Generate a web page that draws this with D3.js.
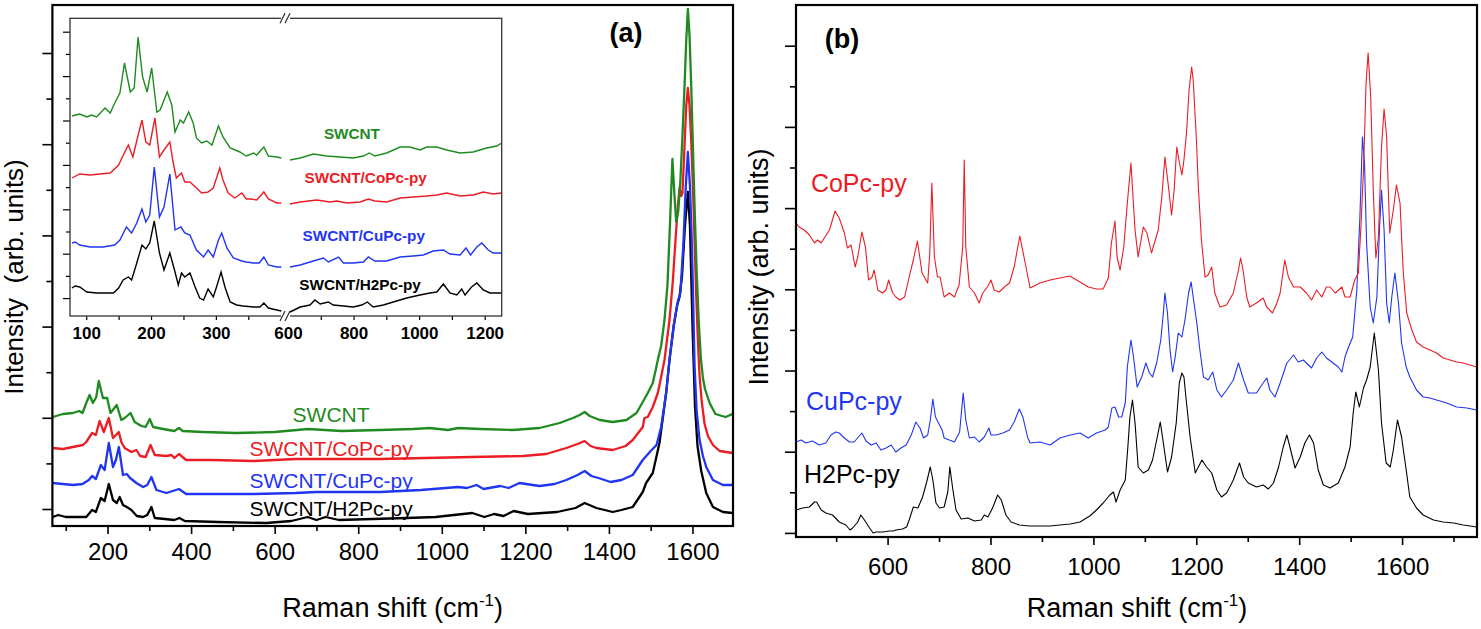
<!DOCTYPE html>
<html>
<head>
<meta charset="utf-8">
<script src="https://cdn.jsdelivr.net/npm/d3@7"></script>
<style>
  body { margin: 0; background: #fff; }
  svg { display: block; }
  text { font-family: 'Liberation Sans', Arial, Helvetica, sans-serif; }
</style>
</head>
<body>
<svg id="chart" width="1481" height="629"></svg>
<script>
// ---- panel (a): [Raman shift cm-1, intensity arb.] ----
const swcntA = [[69,109],[93,112],[117,113],[132,115],[140,113],[149,123],[157,131],[165,123],[173,129],[179,145],[189,128],[199,128],[207,113],[222,121],[233,106],[241,108],[255,113],[265,104],[281,100],[291,99],[301,107],[309,99],[333,97],[360,95],[371,98],[380,95],[428,94],[508,93],[600,94],[680,97],[760,95],[852,96],[931,97],[971,98],[1015,96],[1039,98],[1091,97],[1170,96],[1234,98],[1282,103],[1314,108],[1330,111],[1342,114],[1354,110],[1378,106],[1409,104],[1442,106],[1466,113],[1481,124],[1493,133],[1505,143],[1512,156],[1517,166],[1525,180],[1533,206],[1540,240],[1546,300],[1552,367],[1557,330],[1561,304],[1566,315],[1571,345],[1576,390],[1581,440],[1585,485],[1589,517],[1593,490],[1597,440],[1601,380],[1605,320],[1610,255],[1615,205],[1620,168],[1625,148],[1630,137],[1641,123],[1655,112],[1679,109],[1696,112]];
const coPcA = [[69,78],[93,77],[117,79],[141,81],[149,84],[163,93],[172,91],[181,105],[191,94],[203,108],[213,88],[227,94],[233,84],[241,78],[257,74],[269,76],[278,70],[291,69],[303,81],[313,71],[341,70],[353,71],[360,68],[371,72],[388,66],[450,66],[550,65],[650,67],[750,67],[852,67],[960,68],[1071,69],[1194,70],[1250,72],[1298,78],[1325,82],[1342,85],[1356,80],[1370,78],[1409,76],[1440,80],[1457,86],[1481,99],[1485,108],[1493,109],[1505,119],[1517,133],[1525,149],[1533,166],[1545,206],[1553,245],[1560,290],[1565,320],[1569,338],[1573,330],[1576,333],[1580,370],[1585,420],[1589,438],[1593,420],[1597,385],[1601,340],[1605,285],[1609,230],[1613,185],[1617,150],[1622,125],[1629,102],[1637,90],[1649,81],[1665,75],[1696,73]];
const cuPcA = [[69,43],[93,42],[117,41],[140,42],[155,46],[163,50],[172,47],[184,61],[193,56],[203,83],[213,59],[220,66],[227,79],[237,51],[246,52],[254,48],[269,43],[285,39],[295,41],[305,49],[317,36],[341,33],[371,37],[388,32],[450,32],[550,32],[650,33],[700,34],[750,34],[852,34],[950,36],[1039,39],[1060,38],[1083,41],[1100,37],[1140,40],[1160,38],[1186,43],[1234,40],[1270,42],[1298,46],[1325,51],[1342,55],[1358,50],[1375,48],[1404,44],[1430,46],[1457,51],[1481,66],[1500,75],[1514,81],[1525,99],[1537,133],[1545,166],[1555,200],[1565,225],[1571,233],[1578,280],[1584,340],[1589,374],[1594,340],[1598,290],[1601,240],[1605,160],[1610,115],[1617,86],[1625,70],[1633,59],[1649,46],[1673,41],[1696,41]];
const h2PcA = [[69,9],[82,11],[100,9],[116,9],[149,9],[163,16],[172,14],[184,28],[193,25],[203,42],[213,26],[222,23],[229,29],[237,21],[246,19],[257,16],[270,10],[285,9],[295,11],[305,19],[313,8],[337,7],[360,6],[372,8],[385,5],[464,4],[580,3],[640,5],[679,9],[700,6],[722,9],[754,6],[835,7],[916,8],[985,9],[1073,13],[1102,9],[1125,12],[1148,10],[1172,15],[1206,12],[1276,14],[1320,18],[1342,23],[1370,18],[1409,14],[1430,16],[1457,19],[1481,34],[1489,43],[1505,53],[1521,83],[1537,133],[1545,166],[1555,200],[1563,220],[1569,229],[1575,250],[1582,300],[1589,334],[1594,300],[1597,250],[1600,200],[1606,120],[1612,80],[1621,55],[1633,33],[1649,19],[1673,14],[1696,13]];

// ---- inset of panel (a), axis broken between 400 and 600 ----
const insetSwcnt = [[78,200],[90,202],[101,199],[108,201],[116,199],[129,208],[137,203],[144,213],[152,223],[159,253],[168,224],[174,228],[180,279],[187,239],[194,224],[201,248],[209,204],[214,206],[225,224],[232,211],[237,184],[245,196],[250,193],[258,204],[265,193],[270,178],[278,173],[286,175],[294,171],[304,190],[311,179],[322,168],[337,164],[347,160],[358,163],[363,161],[374,169],[381,160],[394,159],[401,158],[606,156],[637,158],[677,162],[718,160],[759,159],[799,158],[830,160],[848,163],[865,160],[901,163],[942,169],[972,169],[1003,166],[1023,169],[1054,169],[1084,166],[1125,163],[1165,164],[1206,168],[1237,170],[1252,173]];
const insetCoPc = [[78,138],[90,142],[106,141],[121,142],[137,143],[150,151],[158,162],[165,171],[172,159],[179,178],[186,196],[192,174],[198,171],[206,198],[213,159],[220,166],[229,174],[234,154],[239,138],[247,143],[252,134],[260,134],[270,128],[278,123],[288,124],[296,128],[301,138],[306,148],[311,136],[319,123],[329,118],[340,123],[347,117],[355,117],[363,116],[374,124],[381,117],[394,113],[401,113],[606,112],[637,114],[688,116],[728,114],[749,115],[779,113],[820,114],[845,117],[865,115],[901,114],[942,118],[982,119],[1023,120],[1054,121],[1084,123],[1125,120],[1165,121],[1196,124],[1226,122],[1252,123]];
const insetCuPc = [[78,73],[83,74],[90,71],[106,69],[126,69],[144,71],[152,76],[162,89],[170,83],[178,93],[186,107],[192,94],[198,101],[205,149],[213,99],[220,109],[229,142],[237,86],[246,89],[252,83],[260,81],[270,66],[281,59],[288,66],[296,59],[304,76],[309,83],[317,68],[327,58],[340,55],[347,54],[358,53],[367,53],[374,59],[381,51],[394,49],[401,49],[606,49],[637,51],[677,55],[708,58],[723,54],[754,59],[769,53],[799,53],[830,54],[845,59],[865,55],[901,55],[942,59],[982,60],[1013,61],[1043,65],[1074,66],[1094,62],[1125,61],[1143,68],[1157,61],[1176,69],[1191,73],[1211,66],[1226,63],[1252,63]];
const insetH2Pc = [[78,28],[83,30],[90,29],[101,24],[116,23],[132,23],[142,23],[150,28],[157,36],[165,39],[170,36],[178,53],[186,71],[192,67],[198,73],[205,95],[213,63],[220,46],[229,63],[237,44],[242,31],[247,43],[252,39],[260,43],[268,29],[275,18],[281,16],[288,27],[296,19],[301,29],[308,44],[314,29],[322,14],[332,11],[342,10],[358,9],[368,9],[374,13],[381,8],[394,6],[401,5],[606,4],[637,9],[667,11],[682,16],[698,12],[723,14],[738,11],[769,10],[799,9],[825,11],[842,14],[860,9],[891,11],[921,14],[962,18],[1003,21],[1033,23],[1054,24],[1074,32],[1094,23],[1115,21],[1130,27],[1140,21],[1160,29],[1176,33],[1196,26],[1216,23],[1252,23]];

// ---- panel (b) ----
const coPcB = [[422,307],[428,303],[438,300],[448,295],[458,287],[464,290],[471,287],[477,292],[487,300],[498,319],[506,312],[516,297],[522,282],[529,285],[537,263],[542,273],[550,298],[557,283],[563,250],[570,253],[574,260],[581,240],[590,237],[597,240],[602,250],[610,237],[616,233],[624,230],[633,233],[642,253],[650,270],[658,289],[667,257],[678,247],[682,277],[686,347],[691,273],[697,253],[702,253],[710,233],[720,237],[730,233],[739,245],[746,283],[749,370],[752,283],[759,243],[769,237],[778,227],[785,237],[794,243],[801,250],[807,240],[817,238],[827,243],[837,247],[846,263],[857,294],[869,263],[877,242],[896,247],[916,250],[935,252],[954,254],[974,248],[990,243],[1006,241],[1019,241],[1029,252],[1035,287],[1042,309],[1046,273],[1052,260],[1059,283],[1066,327],[1073,367],[1081,300],[1087,273],[1097,303],[1104,297],[1113,277],[1126,300],[1133,333],[1139,373],[1146,343],[1152,315],[1157,340],[1162,383],[1167,368],[1172,355],[1176,370],[1181,397],[1186,440],[1191,463],[1194,450],[1200,393],[1204,343],[1210,290],[1217,253],[1223,255],[1230,263],[1236,237],[1246,223],[1259,225],[1272,237],[1282,260],[1286,272],[1291,260],[1298,233],[1304,223],[1317,227],[1330,232],[1337,223],[1348,217],[1356,226],[1363,237],[1372,270],[1379,253],[1389,243],[1402,243],[1414,237],[1424,230],[1434,240],[1444,233],[1453,243],[1460,243],[1470,237],[1483,243],[1489,233],[1499,233],[1508,250],[1515,257],[1520,303],[1525,360],[1530,447],[1534,477],[1539,433],[1544,340],[1549,272],[1554,293],[1560,383],[1565,421],[1570,393],[1576,297],[1583,320],[1589,345],[1596,327],[1602,260],[1609,217],[1619,200],[1628,188],[1641,183],[1654,180],[1667,177],[1680,172],[1693,170],[1706,168],[1719,167],[1732,165],[1745,163]];
const cuPcB = [[422,88],[432,90],[441,87],[454,89],[467,85],[480,87],[490,95],[499,98],[506,97],[516,92],[526,88],[535,88],[545,94],[550,97],[558,89],[568,85],[578,87],[587,80],[597,82],[607,85],[616,78],[626,82],[636,85],[646,95],[655,108],[663,102],[670,92],[678,95],[683,110],[688,131],[693,113],[699,107],[706,100],[710,92],[720,90],[730,88],[740,98],[747,137],[752,110],[759,92],[769,93],[778,88],[788,93],[797,102],[801,95],[811,95],[824,97],[837,100],[846,108],[856,121],[863,113],[872,93],[877,87],[896,88],[916,85],[935,92],[955,95],[974,97],[990,92],[1006,97],[1023,100],[1029,103],[1036,122],[1042,123],[1049,113],[1055,113],[1062,127],[1066,163],[1073,190],[1078,173],[1085,143],[1094,153],[1102,167],[1109,157],[1115,153],[1123,167],[1131,190],[1136,217],[1139,237],[1144,217],[1149,180],[1154,158],[1159,173],[1165,197],[1172,193],[1178,210],[1185,237],[1190,248],[1194,233],[1201,207],[1207,180],[1214,153],[1223,150],[1232,158],[1240,140],[1249,133],[1259,140],[1272,150],[1282,167],[1292,150],[1301,137],[1317,137],[1330,147],[1337,152],[1343,140],[1353,133],[1363,147],[1376,167],[1389,175],[1398,168],[1408,170],[1424,162],[1434,172],[1444,178],[1453,172],[1466,167],[1476,163],[1483,158],[1489,173],[1496,183],[1504,193],[1512,240],[1518,313],[1523,393],[1527,367],[1531,287],[1538,223],[1544,207],[1551,233],[1556,300],[1560,340],[1565,300],[1570,227],[1575,207],[1580,233],[1586,257],[1593,227],[1599,187],[1608,163],[1615,153],[1628,140],[1641,133],[1654,132],[1667,130],[1687,127],[1706,123],[1726,122],[1745,120]];
const h2PcB = [[422,20],[435,22],[448,23],[458,28],[462,28],[471,20],[480,17],[493,15],[506,8],[519,5],[527,0],[532,2],[542,8],[548,15],[555,10],[565,2],[572,-3],[578,-2],[591,-2],[603,-1],[611,-1],[616,0],[629,1],[637,3],[642,10],[650,23],[659,22],[668,33],[676,48],[683,63],[688,50],[694,27],[701,22],[710,23],[717,38],[721,63],[727,40],[733,20],[743,11],[756,12],[769,9],[782,10],[788,15],[795,13],[804,22],[814,35],[821,30],[830,15],[840,8],[856,5],[876,4],[896,4],[916,4],[935,5],[955,6],[974,8],[993,14],[1006,20],[1019,27],[1032,35],[1039,38],[1044,28],[1052,40],[1062,50],[1067,83],[1071,113],[1076,130],[1081,107],[1087,63],[1097,57],[1107,60],[1115,70],[1123,90],[1130,108],[1136,87],[1144,58],[1152,73],[1161,107],[1167,147],[1172,157],[1176,153],[1181,127],[1188,93],[1198,57],[1211,70],[1220,63],[1230,57],[1240,40],[1249,33],[1259,37],[1272,50],[1284,67],[1292,53],[1301,47],[1317,43],[1330,45],[1340,41],[1350,47],[1360,63],[1369,83],[1376,95],[1382,83],[1392,62],[1402,73],[1411,87],[1420,95],[1428,87],[1437,60],[1447,45],[1460,42],[1476,47],[1489,63],[1499,83],[1505,117],[1510,138],[1517,123],[1525,142],[1531,150],[1538,163],[1546,197],[1554,160],[1560,107],[1569,67],[1577,63],[1583,80],[1591,110],[1599,93],[1608,60],[1615,33],[1628,22],[1641,15],[1661,10],[1680,8],[1700,7],[1719,5],[1745,3]];

// ticks
const xMajorA = [200, 400, 600, 800, 1000, 1200, 1400, 1600];
const xMinorA = [100, 300, 500, 700, 900, 1100, 1300, 1500];
const yMajorA = [17, 108.2, 199.4, 290.6, 381.8, 473];
const yMinorA = [62.6, 153.8, 245, 336.2, 427.4];
const insetTicksL = [100, 150, 200, 250, 300, 350];
const insetLabelsL = [100, 200, 300];
const insetTicksR = [700, 800, 900, 1000, 1100, 1200];
const insetLabelsR = [600, 800, 1000, 1200];
const insetYTicks = [284.3, 262.1, 239.9, 217.7, 195.5, 173.3, 151.1, 128.9, 106.7, 84.5, 62.3, 40.1, 17.9];
const xMajorB = [600, 800, 1000, 1200, 1400, 1600];
const xMinorB = [500, 700, 900, 1100, 1300, 1500, 1700];
const yMajorB = [-2.9, 78.3, 159.5, 240.7, 321.9, 403.1, 484.3];
const yMinorB = [37.7, 118.9, 200.1, 281.3, 362.5, 443.7];

const GREEN = "#1f8a1f", RED = "#ec1c24", BLUE = "#1f35f2", BLACK = "#000";

const svg = d3.select("#chart");

function styleAxis(g, fs, weight) {
  g.select(".domain").remove();
  g.selectAll(".tick line").attr("stroke", "#000").attr("stroke-width", 1.6);
  g.selectAll("text").attr("font-size", fs).attr("font-weight", weight || "normal")
    .attr("font-family", "'Liberation Sans', Arial, sans-serif").attr("fill", "#000");
}

function ticksBottom(g, scale, y, values, size, pad, fmt, fs, weight) {
  const a = g.append("g").attr("transform", `translate(0,${y})`)
    .call(d3.axisBottom(scale).tickValues(values).tickSize(size).tickPadding(pad).tickFormat(fmt));
  styleAxis(a, fs, weight);
  return a;
}
function ticksLeft(g, scale, x, values, size) {
  const a = g.append("g").attr("transform", `translate(${x},0)`)
    .call(d3.axisLeft(scale).tickValues(values).tickSize(size).tickFormat(""));
  styleAxis(a, 10);
  return a;
}

function xTitle(cx) {
  const t = svg.append("text").attr("x", cx).attr("y", 617).attr("text-anchor", "middle")
    .attr("font-size", 27);
  t.append("tspan").text("Raman shift (cm");
  t.append("tspan").attr("dy", -11).attr("font-size", 17).text("-1");
  t.append("tspan").attr("dy", 11).text(")");
}

// ================= panel (a) =================
const xa = d3.scaleLinear().domain([68, 1697]).range([52.4, 733]);
const ya = d3.scaleLinear().domain([0, 521]).range([526, 5]);
const ga = svg.append("g");
const lineA = d3.line().x(d => xa(d[0])).y(d => ya(d[1]));

ticksBottom(ga, xa, 526, xMinorA, 5, 3, () => "", 10);
ticksBottom(ga, xa, 526, xMajorA, 8, 9, d3.format("d"), 24);
ticksLeft(ga, ya, 52.4, yMajorA, 10);
ticksLeft(ga, ya, 52.4, yMinorA, 6);

[[h2PcA, BLACK], [cuPcA, BLUE], [coPcA, RED], [swcntA, GREEN]].forEach(([d, c]) => {
  ga.append("path").datum(d).attr("d", lineA).attr("fill", "none")
    .attr("stroke", c).attr("stroke-width", 2.3).attr("stroke-linejoin", "round");
});

ga.append("rect").attr("x", 52.4).attr("y", 5).attr("width", 733 - 52.4).attr("height", 521)
  .attr("fill", "none").attr("stroke", "#000").attr("stroke-width", 2.2);

const labelsA = [["SWCNT", GREEN, 104], ["SWCNT/CoPc-py", RED, 70], ["SWCNT/CuPc-py", BLUE, 38], ["SWCNT/H2Pc-py", BLACK, 10]];
labelsA.forEach(([t, c, v]) => {
  ga.append("text").attr("x", xa(735)).attr("y", ya(v)).attr("text-anchor", "middle")
    .attr("font-size", 21).attr("fill", c).text(t);
});
ga.append("text").attr("x", 626).attr("y", 42).attr("text-anchor", "middle")
  .attr("font-size", 27).attr("font-weight", "bold").text("(a)");

// ---- inset ----
const xiL = d3.scaleLinear().domain([75, 402]).range([70, 282]);
const xiR = d3.scaleLinear().domain([606, 1252]).range([290, 501.7]);
const yi = d3.scaleLinear().domain([0, 297.7]).range([316, 18.3]);
const gi = svg.append("g");
gi.append("rect").attr("x", 70).attr("y", 18.3).attr("width", 431.7).attr("height", 297.7).attr("fill", "#fff");

ticksBottom(gi, xiL, 316, insetTicksL, 4, 3, () => "", 10);
ticksBottom(gi, xiR, 316, insetTicksR, 4, 3, () => "", 10);
ticksBottom(gi, xiL, 316, insetLabelsL, 0, 11, d3.format("d"), 17, "bold");
ticksBottom(gi, xiR, 316, insetLabelsR, 0, 11, d3.format("d"), 17, "bold");
const iy = ticksLeft(gi, yi, 70, insetYTicks, 6);
iy.selectAll(".tick line").attr("x2", (d, i) => i % 2 ? -4 : -7);
gi.selectAll(".tick line").attr("stroke-width", 1.2);

const lineIL = d3.line().x(d => xiL(d[0])).y(d => yi(d[1]));
const lineIR = d3.line().x(d => xiR(d[0])).y(d => yi(d[1]));
[[insetH2Pc, BLACK], [insetCuPc, BLUE], [insetCoPc, RED], [insetSwcnt, GREEN]].forEach(([d, c]) => {
  gi.append("path").datum(d.filter(p => p[0] <= 402)).attr("d", lineIL)
    .attr("fill", "none").attr("stroke", c).attr("stroke-width", 1.4);
  gi.append("path").datum(d.filter(p => p[0] >= 606)).attr("d", lineIR)
    .attr("fill", "none").attr("stroke", c).attr("stroke-width", 1.4);
});
gi.append("rect").attr("x", 70).attr("y", 18.3).attr("width", 431.7).attr("height", 297.7)
  .attr("fill", "none").attr("stroke", "#333").attr("stroke-width", 1.3);
// axis break marks
[18.3, 316].forEach(y => {
  gi.append("rect").attr("x", 281).attr("y", y - 2).attr("width", 9).attr("height", 4).attr("fill", "#fff");
  [280, 285].forEach(x => {
    gi.append("line").attr("x1", x).attr("y1", y + 5).attr("x2", x + 5).attr("y2", y - 5)
      .attr("stroke", "#333").attr("stroke-width", 1.2);
  });
});

const labelsI = [["SWCNT", GREEN, 795, 176.7], ["SWCNT/CoPc-py", RED, 837, 132.7], ["SWCNT/CuPc-py", BLUE, 831, 75], ["SWCNT/H2Pc-py", BLACK, 820, 26]];
labelsI.forEach(([t, c, x, v]) => {
  gi.append("text").attr("x", xiR(x)).attr("y", yi(v)).attr("text-anchor", "middle")
    .attr("font-size", 15.3).attr("font-weight", "bold").attr("fill", c).text(t);
});

svg.append("text").attr("transform", "translate(23,277) rotate(-90)").attr("text-anchor", "middle")
  .attr("font-size", 26).style("white-space", "pre").text("Intensity  (arb. units)");
xTitle(392.7);

// ================= panel (b) =================
const xb = d3.scaleLinear().domain([422, 1745.6]).range([796, 1477]);
const yb = d3.scaleLinear().domain([-7, 525]).range([537, 5]);
const gb = svg.append("g");
const lineB = d3.line().x(d => xb(d[0])).y(d => yb(d[1]));

ticksBottom(gb, xb, 537, xMinorB, 5, 3, () => "", 10);
ticksBottom(gb, xb, 537, xMajorB, 8, 13, d3.format("d"), 24);
ticksLeft(gb, yb, 796, yMajorB, 11);
ticksLeft(gb, yb, 796, yMinorB, 6);

[[h2PcB, BLACK], [cuPcB, BLUE], [coPcB, RED]].forEach(([d, c]) => {
  gb.append("path").datum(d).attr("d", lineB).attr("fill", "none")
    .attr("stroke", c).attr("stroke-width", 1.1).attr("stroke-linejoin", "round");
});
gb.append("rect").attr("x", 796).attr("y", 5).attr("width", 1477 - 796).attr("height", 532)
  .attr("fill", "none").attr("stroke", "#000").attr("stroke-width", 2.2);

const labelsB = [["CoPc-py", RED, 451, 338.3], ["CuPc-py", BLUE, 441.4, 120], ["H2Pc-py", BLACK, 437.5, 46.7]];
labelsB.forEach(([t, c, x, v]) => {
  gb.append("text").attr("x", xb(x)).attr("y", yb(v)).attr("font-size", 25).attr("fill", c).text(t);
});
gb.append("text").attr("x", 842).attr("y", 48).attr("text-anchor", "middle")
  .attr("font-size", 27).attr("font-weight", "bold").text("(b)");

svg.append("text").attr("transform", "translate(768,267) rotate(-90)").attr("text-anchor", "middle")
  .attr("font-size", 27).text("Intensity (arb. units)");
xTitle(1137);
</script>
</body>
</html>
